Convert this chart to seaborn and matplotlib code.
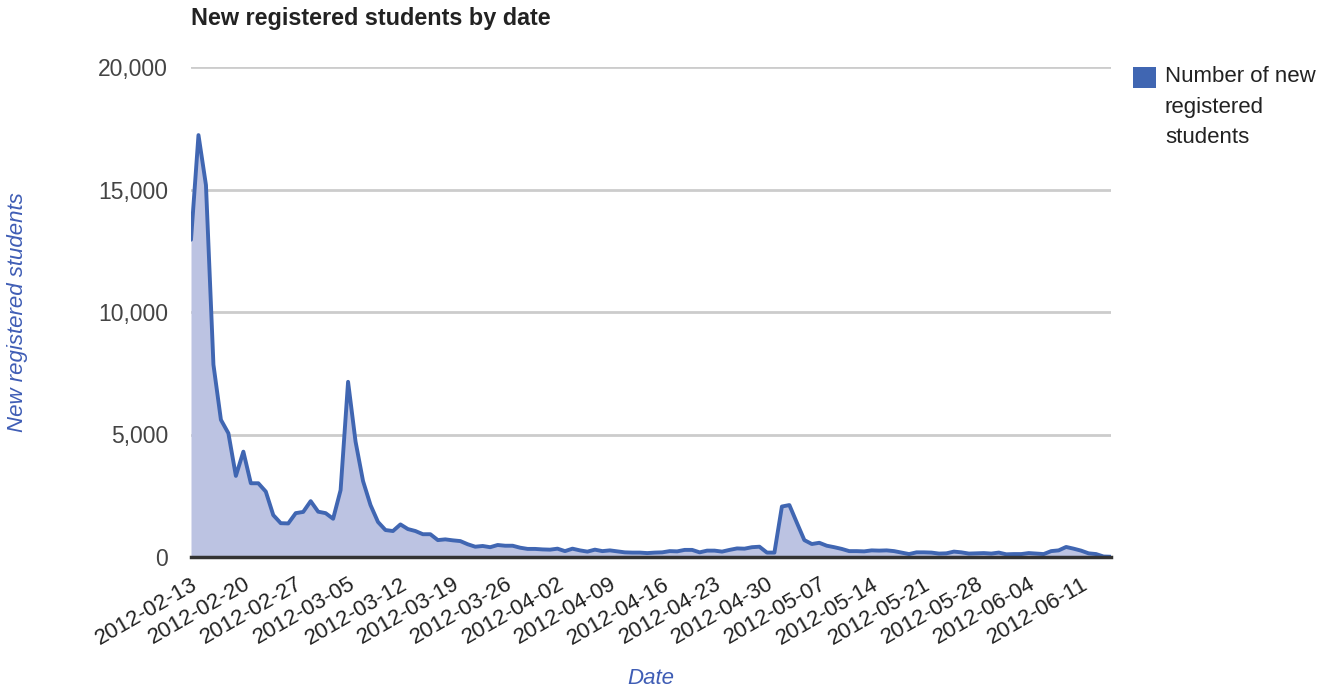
import matplotlib
matplotlib.use("Agg")
import matplotlib.pyplot as plt
import matplotlib.dates as mdates
from matplotlib.patches import Rectangle
from matplotlib.ticker import FuncFormatter
import numpy as np
import pandas as pd
import seaborn as sns

# Daily new registrations, starting 2012-02-13
start_date = "2012-02-13"
new_students = [
    12950, 17220, 15180, 7850, 5600, 5050, 3310, 4300, 3010, 3010,
    2670, 1710, 1380, 1370, 1790, 1840, 2280, 1850, 1790, 1560,
    2730, 7150, 4710, 3100, 2120, 1430, 1100, 1060, 1330, 1140,
    1060, 930, 930, 690, 720, 680, 650, 520, 420, 450,
    400, 490, 460, 460, 380, 330, 330, 310, 300, 340,
    240, 340, 270, 220, 300, 240, 270, 230, 190, 180,
    180, 160, 180, 190, 240, 230, 290, 290, 190, 260,
    260, 220, 290, 350, 340, 400, 420, 180, 180, 2060,
    2120, 1400, 690, 530, 580, 460, 400, 330, 240, 240,
    230, 270, 260, 270, 240, 180, 120, 190, 190, 180,
    140, 150, 220, 190, 140, 150, 160, 140, 180, 110,
    120, 120, 160, 140, 120, 240, 270, 410, 340, 260,
    150, 120, 20, 10,
]
dates = pd.date_range(start_date, periods=len(new_students), freq="D")
tick_dates = pd.date_range(start_date, dates[-1], freq="7D")
y_ticks = [0, 5000, 10000, 15000, 20000]

title = "New registered students by date"
x_title = "Date"
y_title = "New registered students"
series_name = "Number of new\nregistered\nstudents"

line_color = "#4066b2"
fill_color = "#bcc3e2"
axis_title_color = "#3f5db5"

df = pd.DataFrame({"date": dates, "students": new_students})

sns.set_theme(style="white")
plt.rcParams["font.family"] = ["Liberation Sans", "DejaVu Sans"]

W, H = 1328, 694
fig = plt.figure(figsize=(W / 100, H / 100), dpi=100)
ax = fig.add_axes([191 / W, 1 - 557 / H, 920 / W, 490 / H])

ax.fill_between(df["date"], df["students"], 0, color=fill_color, lw=0, zorder=2)
sns.lineplot(data=df, x="date", y="students", ax=ax, color=line_color,
             linewidth=2.8, zorder=3)

ax.set_xlim(dates[0], dates[-1])
ax.set_ylim(0, 20000)
ax.set_yticks(y_ticks)
ax.yaxis.set_major_formatter(FuncFormatter(lambda v, _: f"{int(v):,}"))
ax.set_xticks(tick_dates)
ax.xaxis.set_major_formatter(mdates.DateFormatter("%Y-%m-%d"))

ax.grid(axis="y", color="#cccccc", linewidth=2, zorder=1)
ax.grid(axis="x", visible=False)
for side in ["top", "right", "left"]:
    ax.spines[side].set_visible(False)
ax.spines["bottom"].set_color("#333333")
ax.spines["bottom"].set_linewidth(2.5)
ax.spines["bottom"].set_zorder(4)

ax.tick_params(axis="y", length=0, pad=16.5, labelsize=16.5, labelcolor="#444444")
ax.tick_params(axis="x", length=0, pad=12, labelsize=16, labelcolor="#222222")
for lbl in ax.get_xticklabels():
    lbl.set_rotation(30)
    lbl.set_ha("right")
    lbl.set_rotation_mode("anchor")

ax.set_xlabel(x_title, fontsize=16, style="italic", color=axis_title_color)
ax.xaxis.set_label_coords(0.5, -0.227)
ax.set_ylabel(y_title, fontsize=16, style="italic", color=axis_title_color)
ax.yaxis.set_label_coords(-0.177, 0.5)

fig.text(191 / W, 1 - 18 / H, title, fontsize=16.8, fontweight="bold",
         color="#222222", ha="left", va="center")

# Legend: colour swatch with the series name beside it
fig.patches.append(Rectangle((1133 / W, 1 - 88 / H), 23 / W, 21 / H,
                             transform=fig.transFigure, facecolor=line_color,
                             edgecolor=line_color, lw=0))
fig.text(1165 / W, 1 - 66 / H, series_name, fontsize=16, color="#222222",
         ha="left", va="top", linespacing=1.6)

fig.savefig("out.png", dpi=100)
